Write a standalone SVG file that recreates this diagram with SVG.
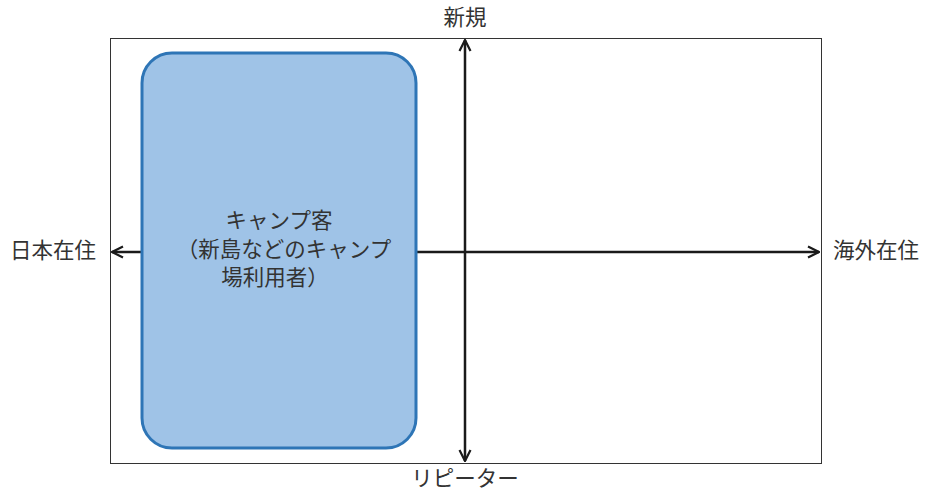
<svg xmlns="http://www.w3.org/2000/svg" width="925" height="492" viewBox="0 0 925 492">
<style>
text{font-family:"Noto Sans CJK JP","Noto Sans",sans-serif;font-size:21.5px;fill:#333333;}
.ax{stroke:#1a1a1a;stroke-width:2.5;fill:none;}
</style>
<defs>
<marker id="ah" viewBox="0 0 10 10" refX="9" refY="5" markerWidth="5.5" markerHeight="5.5" orient="auto-start-reverse" markerUnits="strokeWidth">
<path d="M1,1 L9,5 L1,9" fill="none" stroke="#1a1a1a" stroke-width="1.6"/>
</marker>
</defs>
<g id="frame">
<rect x="110.5" y="38.5" width="711" height="425" fill="#ffffff" stroke="#333333" stroke-width="1"/>
</g>
<g id="connectors">
<line class="ax" x1="112" y1="252" x2="819" y2="252" marker-start="url(#ah)" marker-end="url(#ah)"/>
<line class="ax" x1="465" y1="40" x2="465" y2="461" marker-start="url(#ah)" marker-end="url(#ah)"/>
</g>
<g id="camp">
<rect x="142" y="53" width="274" height="395" rx="30" ry="30" fill="#9FC3E7" stroke="#2E75B6" stroke-width="3"/>
<text x="279" y="228" text-anchor="middle">キャンプ客</text>
<text x="284" y="257" text-anchor="middle">（新島などのキャンプ</text>
<text x="275" y="285" text-anchor="middle">場利用者）</text>
</g>
<g id="label-new"><text x="465" y="25" text-anchor="middle">新規</text></g>
<g id="label-repeat"><text x="465" y="486" text-anchor="middle">リピーター</text></g>
<g id="label-japan"><text x="53" y="258" text-anchor="middle">日本在住</text></g>
<g id="label-overseas"><text x="876" y="258" text-anchor="middle">海外在住</text></g>
</svg>
